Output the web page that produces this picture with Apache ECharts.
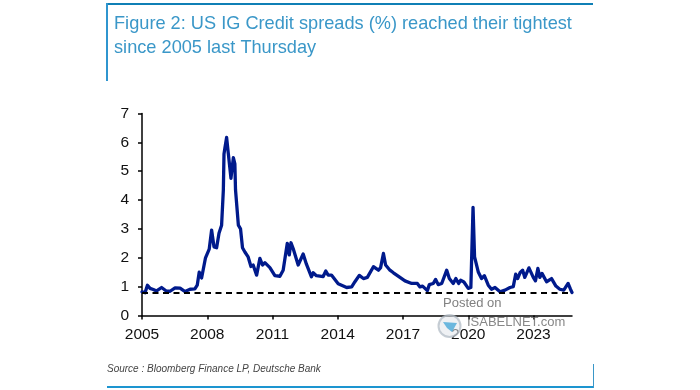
<!DOCTYPE html>
<html><head><meta charset="utf-8">
<style>html,body{margin:0;padding:0;background:#fff}#c{width:700px;height:390px}</style>
<script src="https://cdn.jsdelivr.net/npm/echarts@6/dist/echarts.min.js"></script>
</head><body><div id="c"></div>
<script>
const years = [
2005.00,2005.14,2005.25,2005.37,2005.52,2005.67,2005.90,2006.13,2006.29,2006.52,
2006.75,2006.98,2007.21,2007.43,2007.54,2007.63,2007.74,2007.82,2007.92,2008.00,
2008.09,2008.20,2008.31,2008.43,2008.54,2008.66,2008.74,2008.77,2008.81,2008.89,
2008.97,2009.09,2009.20,2009.27,2009.30,2009.43,2009.53,2009.62,2009.73,2009.88,
2010.01,2010.11,2010.27,2010.42,2010.54,2010.65,2010.88,2011.11,2011.34,2011.49,
2011.57,2011.68,2011.77,2011.85,2011.95,2012.18,2012.41,2012.56,2012.79,2012.87,
2013.02,2013.33,2013.45,2013.56,2013.71,2014.02,2014.41,2014.64,2014.79,2014.99,
2015.18,2015.36,2015.64,2015.87,2015.97,2016.10,2016.20,2016.40,2016.56,2016.86,
2017.09,2017.40,2017.66,2017.78,2017.90,2018.12,2018.21,2018.39,2018.50,2018.62,
2018.78,2019.01,2019.13,2019.31,2019.43,2019.56,2019.65,2019.80,2020.00,2020.12,
2020.22,2020.29,2020.35,2020.46,2020.61,2020.74,2020.92,2021.07,2021.23,2021.46,
2021.69,2021.92,2022.07,2022.18,2022.27,2022.38,2022.50,2022.60,2022.79,2022.99,
2023.09,2023.20,2023.29,2023.39,2023.60,2023.83,2024.03,2024.21,2024.39,2024.59,
2024.70,2024.77];
const spreads = [
0.82,0.79,1.05,0.94,0.90,0.85,0.97,0.84,0.84,0.96,
0.95,0.83,0.91,0.92,1.05,1.50,1.30,1.30,2.00,2.05,
2.30,2.96,2.38,2.35,2.85,3.13,4.35,5.60,5.80,6.17,
5.60,4.75,5.47,5.25,4.35,3.13,3.00,2.35,2.20,2.03,
1.70,1.75,1.40,1.98,1.75,1.83,1.66,1.38,1.36,1.57,
1.60,2.50,2.10,2.52,2.32,1.75,2.13,1.78,1.34,1.48,
1.38,1.35,1.54,1.40,1.40,1.10,0.97,0.99,1.17,1.39,
1.28,1.32,1.69,1.57,1.66,2.15,1.75,1.57,1.48,1.32,
1.20,1.11,1.11,0.99,1.02,0.86,1.07,1.11,1.25,1.07,
1.11,1.57,1.28,1.11,1.28,1.11,1.22,1.16,0.94,0.97,
3.75,2.03,2.09,1.51,1.28,1.38,1.05,0.91,0.97,0.82,
0.88,0.97,1.00,1.43,1.28,1.48,1.57,1.32,1.65,1.32,
1.20,1.63,1.32,1.46,1.17,1.28,1.02,0.91,0.88,1.11,
0.91,0.80];
const tightLevel = [0.8];
const yearTicks = [2005,2008,2011,2014,2017,2020,2023];
const titleLines = 'Figure 2: US IG Credit spreads (%) reached their tightest\nsince 2005 last Thursday';
const sourceText = 'Source : Bloomberg Finance LP, Deutsche Bank';

const blue = '#3a97c8';
const chart = echarts.init(document.getElementById('c'), null, {renderer:'canvas'});
chart.setOption({
  animation:false,
  backgroundColor:'#fff',
  textStyle:{fontFamily:'"Liberation Sans",Arial,sans-serif'},
  grid:{left:142,top:113.5,width:430,height:202},
  xAxis:{type:'value',min:2005,max:2024.77,splitLine:{show:false},
    axisLine:{onZero:false,lineStyle:{color:'#000',width:1.5}},
    axisTick:{inside:false,length:4,lineStyle:{color:'#000',width:1.5},customValues:yearTicks},
    axisLabel:{color:'#111',fontSize:15.5,margin:11,customValues:yearTicks,formatter:v=>String(v)}},
  yAxis:{type:'value',min:0,max:7,interval:1,splitLine:{show:false},
    axisLine:{show:true,lineStyle:{color:'#000',width:1.5}},
    axisTick:{show:true,length:4,lineStyle:{color:'#000',width:1.5}},
    axisLabel:{color:'#111',fontSize:15.5,margin:13}},
  series:[{type:'line',data:years.map((y,i)=>[y,spreads[i]]),showSymbol:false,symbol:'none',smooth:false,
    lineStyle:{color:'#001a8c',width:3.3,join:'round',cap:'round'},z:3,
    markLine:{silent:true,symbol:'none',label:{show:false},
      lineStyle:{color:'#000',type:[6,4.5],width:1.8},
      data:[[{coord:[2005,tightLevel[0]]},{coord:[2024.77,tightLevel[0]]}]]}}],
  graphic:[
    {type:'text',left:114,top:12,style:{text:titleLines,fill:blue,font:'18.2px "Liberation Sans",Arial,sans-serif',lineHeight:24}},
    {type:'text',left:107,top:364,style:{text:sourceText,fill:'#444',font:'italic 10px "Liberation Sans",Arial,sans-serif'}},
    {type:'rect',shape:{x:106,y:3,width:487,height:2},style:{fill:'#0f7fb5'}},
    {type:'rect',shape:{x:106,y:3,width:2,height:78},style:{fill:'#2f95cf'}},
    {type:'rect',shape:{x:107,y:386,width:487,height:2},style:{fill:'#1d95d0'}},
    {type:'rect',shape:{x:593,y:364,width:1,height:24},style:{fill:blue}},
    {type:'text',left:443,top:297,z:10,style:{text:'Posted on',fill:'#808080',font:'13px "Liberation Sans",Arial,sans-serif'}},
    {type:'text',left:467,top:316,z:10,style:{text:'ISABELNET.com',fill:'rgba(105,105,105,0.8)',font:'13px "Liberation Sans",Arial,sans-serif'}},
    {type:'circle',z:9,shape:{cx:449.5,cy:326,r:11},style:{fill:'rgba(225,230,235,0.55)',stroke:'rgba(175,185,195,0.7)',lineWidth:2}},
    {type:'polygon',z:10,shape:{points:[[443,322],[457,323],[452,332],[447,328]]},style:{fill:'rgba(92,176,220,0.9)'}}
  ]
});
</script></body></html>
